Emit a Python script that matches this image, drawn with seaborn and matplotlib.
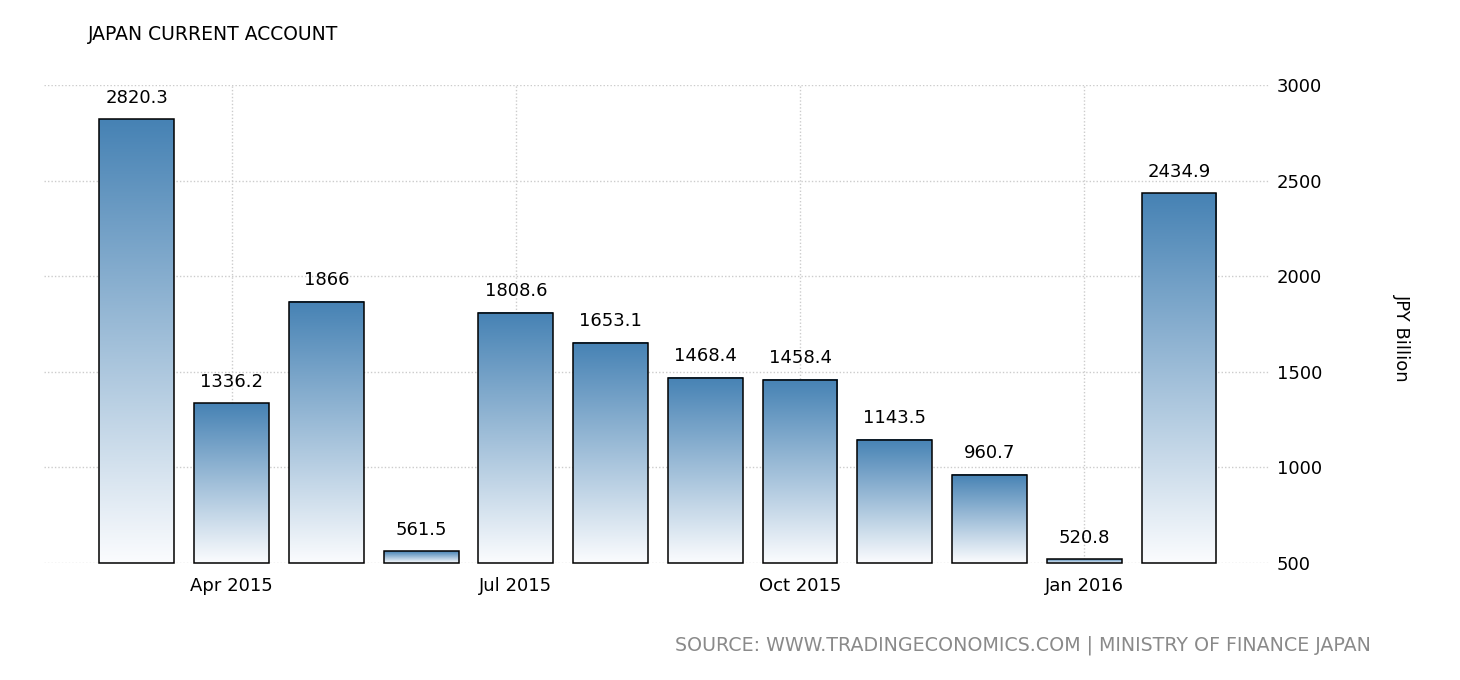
import numpy as np
import pandas as pd
import matplotlib
matplotlib.use("Agg")
import matplotlib.pyplot as plt
import seaborn as sns
from matplotlib.colors import LinearSegmentedColormap

months = ["Mar 2015", "Apr 2015", "May 2015", "Jun 2015", "Jul 2015", "Aug 2015",
          "Sep 2015", "Oct 2015", "Nov 2015", "Dec 2015", "Jan 2016", "Feb 2016"]
values = [2820.3, 1336.2, 1866, 561.5, 1808.6, 1653.1, 1468.4, 1458.4, 1143.5, 960.7, 520.8, 2434.9]
value_labels = ["2820.3", "1336.2", "1866", "561.5", "1808.6", "1653.1", "1468.4",
                "1458.4", "1143.5", "960.7", "520.8", "2434.9"]
tick_months = ["Apr 2015", "Jul 2015", "Oct 2015", "Jan 2016"]
y_ticks = [500, 1000, 1500, 2000, 2500, 3000]

df = pd.DataFrame({"month": months, "value": values})

sns.set_style("white")
plt.rcParams["font.family"] = ["DejaVu Sans"]

fig = plt.figure(figsize=(14.6, 6.8), dpi=100)
W, H = 1460, 680
ax = fig.add_axes([44 / W, 1 - 563 / H, (1270 - 44) / W, (563 - 85) / H])

sns.barplot(data=df, x="month", y="value", ax=ax, width=0.79, color="#4682b4",
            edgecolor="black", linewidth=1.1, order=months)

ymin, ymax = 500, 3000
ax.set_ylim(ymin, ymax)
ax.set_xlim(-0.98, 11.96)

cmap = LinearSegmentedColormap.from_list("g", ["#fbfcfe", "#4682b4"])
grad = np.linspace(0, 1, 256).reshape(-1, 1)
for p, lab in zip(ax.patches, value_labels):
    x0 = p.get_x()
    w = p.get_width()
    top = p.get_height()
    p.set_facecolor("none")
    p.set_zorder(3)
    p.set_clip_on(False)
    # draw bar from axis floor so the bottom edge is visible
    p.set_y(ymin)
    p.set_height(top - ymin)
    ax.imshow(grad, extent=(x0, x0 + w, ymin, top), origin="lower", aspect="auto",
              cmap=cmap, zorder=2, interpolation="bicubic")
    ax.annotate(lab, (x0 + w / 2, top), xytext=(0, 9), textcoords="offset points",
                ha="center", va="bottom", fontsize=13, color="black")

ax.set_xlim(-0.98, 11.96)
ax.set_ylim(ymin, ymax)

# grid
ax.set_yticks(y_ticks)
ax.yaxis.tick_right()
ax.tick_params(axis="y", length=0, pad=5, labelsize=13, labelcolor="black")
for lbl in ax.get_yticklabels():
    lbl.set_horizontalalignment("left")
for yv in y_ticks:
    ax.axhline(yv, color="#cccccc", linestyle=(0, (1, 1.5)), linewidth=1, zorder=1)

tick_pos = [months.index(m) for m in tick_months]
ax.set_xticks(tick_pos)
ax.set_xticklabels(tick_months, fontsize=13)
ax.tick_params(axis="x", length=7, color="#cccccc", width=1, pad=3, labelcolor="black")
for xp in tick_pos:
    ax.axvline(xp, color="#cccccc", linestyle=(0, (1, 1.5)), linewidth=1, zorder=1)

for s in ax.spines.values():
    s.set_visible(False)
ax.set_xlabel("")
ax.set_ylabel("")

fig.text(1402 / W, 1 - 338 / H, "JPY Billion", rotation=270, ha="center", va="center",
         fontsize=13, color="black")
fig.text(88 / W, 1 - 34 / H, "JAPAN CURRENT ACCOUNT", ha="left", va="center",
         fontsize=13.5, color="black")
fig.text(1371 / W, 1 - 645 / H,
         "SOURCE: WWW.TRADINGECONOMICS.COM | MINISTRY OF FINANCE JAPAN",
         ha="right", va="center", fontsize=13.7, color="#8a8a8a")

fig.savefig("out.png", dpi=100)
